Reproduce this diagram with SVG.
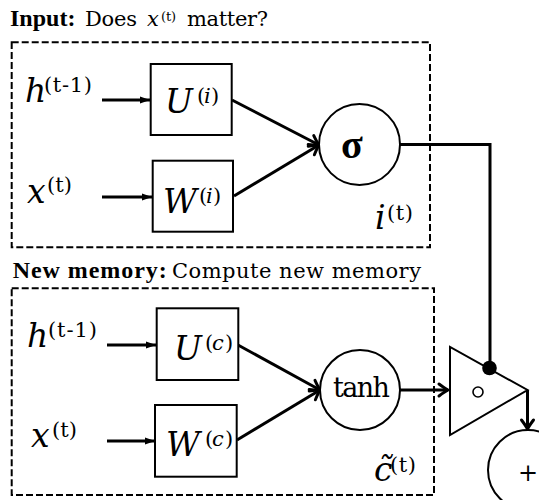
<svg xmlns="http://www.w3.org/2000/svg" width="539" height="500" viewBox="0 0 539 500">
<defs>
<marker id="fa" markerUnits="userSpaceOnUse" markerWidth="12" markerHeight="10" refX="10" refY="4" orient="auto" overflow="visible">
<path d="M0,0.5 L10,4 L0,7.5 z" fill="#000"/>
</marker>
<marker id="oa" markerUnits="userSpaceOnUse" markerWidth="12" markerHeight="14" refX="0" refY="0" orient="auto" overflow="visible">
<path d="M-9,-6 Q-3,-1.5 0,0 Q-3,1.5 -9,6" fill="none" stroke="#000" stroke-width="3" stroke-linecap="round"/>
</marker>
</defs>

<g id="titles">
<text font-family="Liberation Serif, serif" font-size="24" font-weight="bold" x="10" y="26">Input:</text>
<text font-family="DejaVu Serif, Liberation Serif, serif" font-size="21" x="85" y="26" textLength="52">Does</text>
<text font-family="DejaVu Serif, Liberation Serif, serif" font-size="21" font-style="italic" x="147" y="26">x</text>
<text font-family="DejaVu Serif, Liberation Serif, serif" font-size="13" x="161" y="21" textLength="15">(t)</text>
<text font-family="DejaVu Serif, Liberation Serif, serif" font-size="21" x="187" y="26" textLength="81">matter?</text>
<text font-family="Liberation Serif, serif" font-size="24" font-weight="bold" x="12.7" y="278" textLength="154">New memory:</text>
<text font-family="DejaVu Serif, Liberation Serif, serif" font-size="21" x="172" y="278" textLength="249">Compute new memory</text>
</g>

<g id="input-gate">
<rect x="11.7" y="42.3" width="418.3" height="205" fill="none" stroke="#000" stroke-width="2" stroke-dasharray="7 3"/>
</g>
<g id="new-memory">
<rect x="11.7" y="288.3" width="422.3" height="206.7" fill="none" stroke="#000" stroke-width="2" stroke-dasharray="7 3"/>
</g>

<g id="connectors" fill="none" stroke="#000" stroke-width="3">
<line x1="102" y1="100" x2="150" y2="100" marker-end="url(#fa)"/>
<line x1="102" y1="197" x2="152" y2="197" marker-end="url(#fa)"/>
<line x1="232" y1="100" x2="319" y2="145" marker-end="url(#oa)"/>
<line x1="234" y1="196" x2="319" y2="145" marker-end="url(#oa)"/>
<path d="M400,144.5 H490 V368"/>
<line x1="107" y1="345" x2="156" y2="345" marker-end="url(#fa)"/>
<line x1="107" y1="441" x2="155" y2="441" marker-end="url(#fa)"/>
<line x1="238" y1="345" x2="320" y2="390" marker-end="url(#oa)"/>
<line x1="237" y1="440" x2="320" y2="390" marker-end="url(#oa)"/>
<line x1="400" y1="390" x2="448" y2="390" marker-end="url(#oa)"/>
<line x1="527.5" y1="390" x2="527.5" y2="429" marker-end="url(#oa)"/>
</g>

<g id="h-i">
<text font-family="DejaVu Serif, Liberation Serif, serif" font-size="33" font-style="italic" x="25" y="102">h</text>
<text font-family="DejaVu Serif, Liberation Serif, serif" font-size="21" x="44" y="92" textLength="48">(t-1)</text>
</g>
<g id="x-i">
<text font-family="DejaVu Serif, Liberation Serif, serif" font-size="33" font-style="italic" x="27" y="203">x</text>
<text font-family="DejaVu Serif, Liberation Serif, serif" font-size="21" x="47" y="192" textLength="25">(t)</text>
</g>
<g id="U-i">
<rect x="150.7" y="64" width="81" height="71" fill="#fff" stroke="#000" stroke-width="2"/>
<text font-family="DejaVu Serif, Liberation Serif, serif" font-size="33" font-style="italic" x="165" y="113" textLength="32">U</text>
<text font-family="DejaVu Serif, Liberation Serif, serif" font-size="21" x="197" y="103">(</text>
<text font-family="DejaVu Serif, Liberation Serif, serif" font-size="21" font-style="italic" x="204" y="103">i</text>
<text font-family="DejaVu Serif, Liberation Serif, serif" font-size="21" x="211" y="103">)</text>
</g>
<g id="W-i">
<rect x="152.7" y="160.7" width="80.3" height="71" fill="#fff" stroke="#000" stroke-width="2"/>
<text font-family="DejaVu Serif, Liberation Serif, serif" font-size="33" font-style="italic" x="163" y="213" textLength="36">W</text>
<text font-family="DejaVu Serif, Liberation Serif, serif" font-size="21" x="199" y="203">(</text>
<text font-family="DejaVu Serif, Liberation Serif, serif" font-size="21" font-style="italic" x="206" y="203">i</text>
<text font-family="DejaVu Serif, Liberation Serif, serif" font-size="21" x="213" y="203">)</text>
</g>
<g id="sigma">
<circle cx="359.5" cy="144.5" r="40.5" fill="#fff" stroke="#000" stroke-width="2"/>
<text font-family="Liberation Serif, serif" x="352" y="158" font-size="40" font-weight="bold" text-anchor="middle">σ</text>
</g>
<g id="i-label">
<text font-family="DejaVu Serif, Liberation Serif, serif" font-size="33" font-style="italic" x="375" y="229">i</text>
<text font-family="DejaVu Serif, Liberation Serif, serif" font-size="21" x="387" y="220" textLength="26">(t)</text>
</g>

<g id="h-c">
<text font-family="DejaVu Serif, Liberation Serif, serif" font-size="33" font-style="italic" x="27" y="347">h</text>
<text font-family="DejaVu Serif, Liberation Serif, serif" font-size="21" x="48" y="337" textLength="49">(t-1)</text>
</g>
<g id="x-c">
<text font-family="DejaVu Serif, Liberation Serif, serif" font-size="33" font-style="italic" x="31" y="447">x</text>
<text font-family="DejaVu Serif, Liberation Serif, serif" font-size="21" x="52" y="437" textLength="25">(t)</text>
</g>
<g id="U-c">
<rect x="156.7" y="308.3" width="81.6" height="71.7" fill="#fff" stroke="#000" stroke-width="2"/>
<text font-family="DejaVu Serif, Liberation Serif, serif" font-size="33" font-style="italic" x="174" y="360" textLength="31">U</text>
<text font-family="DejaVu Serif, Liberation Serif, serif" font-size="21" x="205" y="350">(</text>
<text font-family="DejaVu Serif, Liberation Serif, serif" font-size="21" font-style="italic" x="212" y="350">c</text>
<text font-family="DejaVu Serif, Liberation Serif, serif" font-size="21" x="225" y="350">)</text>
</g>
<g id="W-c">
<rect x="155" y="405" width="81.7" height="71.7" fill="#fff" stroke="#000" stroke-width="2"/>
<text font-family="DejaVu Serif, Liberation Serif, serif" font-size="33" font-style="italic" x="166" y="456" textLength="38">W</text>
<text font-family="DejaVu Serif, Liberation Serif, serif" font-size="21" x="205" y="446">(</text>
<text font-family="DejaVu Serif, Liberation Serif, serif" font-size="21" font-style="italic" x="212" y="446">c</text>
<text font-family="DejaVu Serif, Liberation Serif, serif" font-size="21" x="225" y="446">)</text>
</g>
<g id="tanh">
<circle cx="360" cy="390" r="40" fill="#fff" stroke="#000" stroke-width="2"/>
<text font-family="DejaVu Serif, Liberation Serif, serif" x="361.5" y="397" font-size="27" text-anchor="middle" textLength="57">tanh</text>
</g>
<g id="c-label">
<text font-family="DejaVu Serif, Liberation Serif, serif" font-size="33" font-style="italic" x="374" y="481">c&#x303;</text>
<text font-family="DejaVu Serif, Liberation Serif, serif" font-size="21" x="390" y="472" textLength="26">(t)</text>
</g>

<g id="gate">
<polygon points="450,347 450,435 527.5,390" fill="#fff" stroke="#000" stroke-width="2"/>
<circle cx="478" cy="392" r="5" fill="none" stroke="#000" stroke-width="1.6"/>
<circle cx="489.5" cy="368" r="7.3" fill="#000"/>
</g>
<g id="plus">
<circle cx="528" cy="470" r="40" fill="#fff" stroke="#000" stroke-width="2"/>
<text font-family="DejaVu Serif, Liberation Serif, serif" x="528" y="481" font-size="24" text-anchor="middle">+</text>
</g>
</svg>
